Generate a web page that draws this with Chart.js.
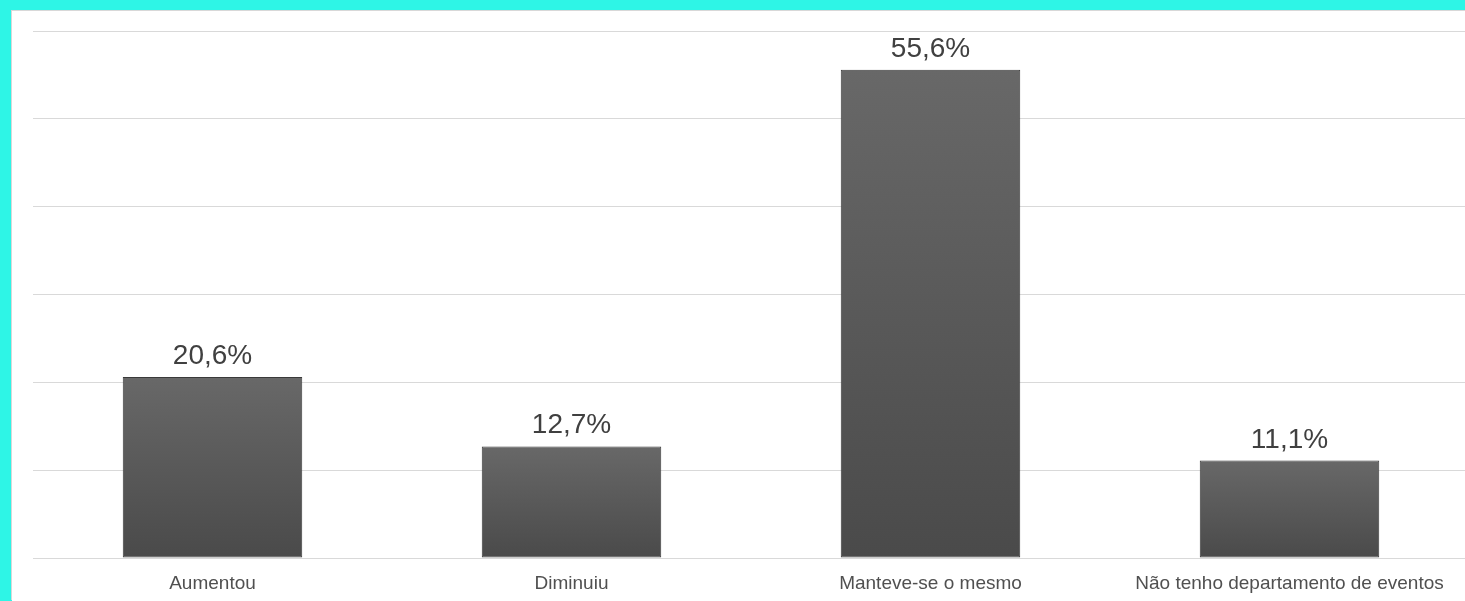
<!DOCTYPE html>
<html>
<head>
<meta charset="utf-8">
<script src="https://cdn.jsdelivr.net/npm/chart.js@4"></script>
<style>
  html, body { margin: 0; padding: 0; }
  body { background: #2ef5e6; width: 1465px; height: 601px; overflow: hidden; position: relative; }
  .panel { position: absolute; left: 12px; top: 11px; width: 1457px; height: 590px; background: #fff; box-shadow: -1px -1px 0 #d8d8d8; overflow: hidden; }
  canvas { display: block; }
</style>
</head>
<body>
<div class="panel"><canvas id="barChart" width="1457" height="590"></canvas></div>
<script>
// categorias e valores (%)
const categories = ["Aumentou", "Diminuiu", "Manteve-se o mesmo", "Não tenho departamento de eventos"];
const values = [20.6, 12.7, 55.6, 11.1];
const yMax = 60;
const yStep = 10;

// gradiente por barra (do topo até a base)
function barGradient(context) {
  const chart = context.chart;
  const y = chart.scales.y;
  if (!y || !context.parsed) return "#5a5a5a";
  const top = y.getPixelForValue(context.parsed.y);
  const bottom = y.getPixelForValue(0);
  if (!isFinite(top) || !isFinite(bottom) || top === bottom) return "#5a5a5a";
  const g = chart.ctx.createLinearGradient(0, top, 0, bottom);
  g.addColorStop(0, "#686868");
  g.addColorStop(1, "#4a4a4a");
  return g;
}

// rótulos em cima das barras
const valueLabels = {
  id: "valueLabels",
  afterDatasetsDraw(chart) {
    const ctx = chart.ctx;
    const meta = chart.getDatasetMeta(0);
    ctx.save();
    ctx.font = "28px 'Liberation Sans', Arial, sans-serif";
    ctx.fillStyle = "#404040";
    ctx.textAlign = "center";
    ctx.textBaseline = "alphabetic";
    meta.data.forEach((bar, i) => {
      const txt = values[i].toFixed(1).replace(".", ",") + "%";
      ctx.fillText(txt, bar.x, bar.y - 13);
    });
    ctx.restore();
  },
};

const barChart = new Chart(document.getElementById("barChart"), {
  type: "bar",
  data: {
    labels: categories,
    datasets: [
      {
        data: values,
        backgroundColor: barGradient,
        borderColor: "#3a3a3a",
        borderWidth: 1,
        borderSkipped: false,
        categoryPercentage: 1,
        barPercentage: 0.5,
      },
    ],
  },
  options: {
    responsive: false,
    animation: false,
    layout: { padding: { left: 21, top: 20, right: 0, bottom: 0 } },
    plugins: {
      legend: { display: false },
      tooltip: { enabled: false },
    },
    scales: {
      x: {
        grid: { display: false, drawTicks: false },
        border: { display: true, color: "#d9d9d9", width: 1 },
        ticks: {
          color: "#505050",
          font: { size: 19, family: "'Liberation Sans', Arial, sans-serif" },
          padding: 14,
          maxRotation: 0,
          autoSkip: false,
        },
        afterFit(scale) { scale.height = 43; },
      },
      y: {
        min: 0,
        max: yMax,
        ticks: { display: false, stepSize: yStep },
        grid: { color: "#d9d9d9", lineWidth: 1, drawTicks: false },
        border: { display: false },
        afterFit(scale) { scale.width = 0; },
      },
    },
  },
  plugins: [valueLabels],
});
</script>
</body>
</html>
